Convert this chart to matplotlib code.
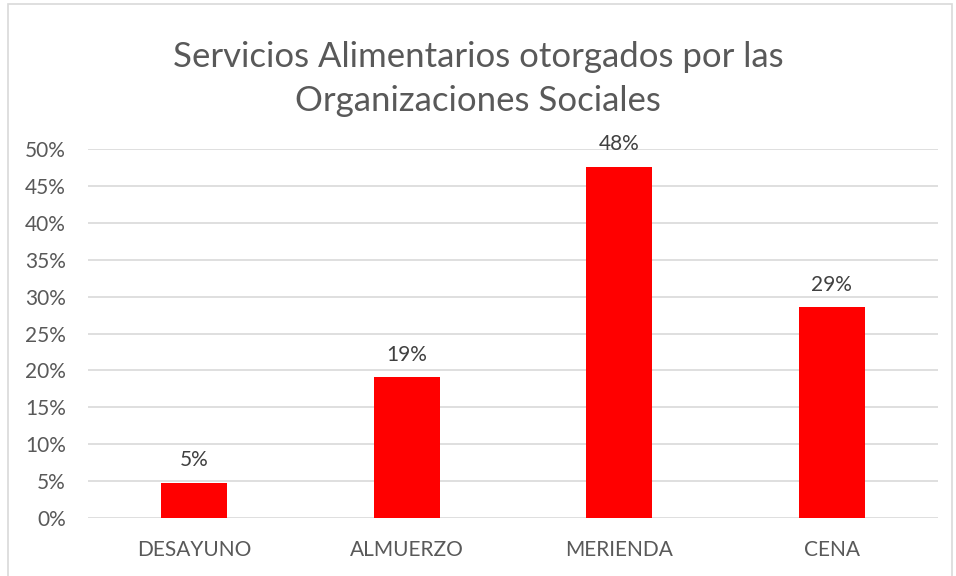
import matplotlib.pyplot as plt
from matplotlib.patches import Rectangle
from matplotlib.ticker import PercentFormatter

categorias = ['DESAYUNO', 'ALMUERZO', 'MERIENDA', 'CENA']
valores = [1 / 21, 4 / 21, 10 / 21, 6 / 21]
etiquetas = ['5%', '19%', '48%', '29%']

plt.rcParams['font.family'] = ['Lato', 'DejaVu Sans']
gris = '#595959'

fig = plt.figure(figsize=(9.56, 5.76), dpi=100)
fig.patches.append(Rectangle((8 / 956, -0.01), 944 / 956, 1 - 4 / 576 + 0.01,
                             transform=fig.transFigure, fill=False,
                             edgecolor='#d9d9d9', linewidth=1.2))

ax = fig.add_axes([88 / 956, 1 - 518 / 576, 850 / 956, 369 / 576])
x = range(len(categorias))
ax.bar(x, valores, width=0.31, color='#ff0000', zorder=3)
for i, v in enumerate(valores):
    ax.text(i, v + 0.017, etiquetas[i], ha='center', va='bottom', fontsize=15, color='#404040')

ax.set_ylim(0, 0.5)
ax.set_xlim(-0.5, 3.5)
ax.set_yticks([i * 0.05 for i in range(11)])
ax.yaxis.set_major_formatter(PercentFormatter(1.0, decimals=0))
ax.set_xticks(list(x))
ax.set_xticklabels(categorias)
ax.grid(axis='y', color='#d9d9d9', linewidth=1.2, zorder=0)
for s in ax.spines.values():
    s.set_visible(False)
ax.tick_params(axis='both', length=0, labelsize=15, colors=gris)
ax.tick_params(axis='y', pad=16)
ax.tick_params(axis='x', pad=16)
ax.set_axisbelow(True)

fig.text(478 / 956, 1 - 79 / 576, 'Servicios Alimentarios otorgados por las\nOrganizaciones Sociales',
         ha='center', va='center', fontsize=25, color=gris, linespacing=1.45)

fig.savefig('out.png', dpi=100)
